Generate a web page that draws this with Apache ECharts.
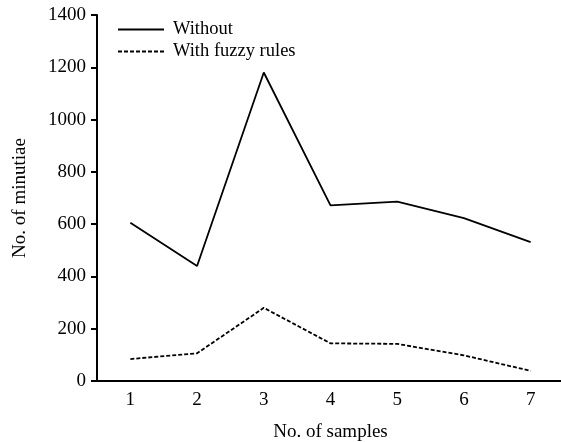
<!DOCTYPE html>
<html>
<head>
<meta charset="utf-8">
<script src="https://cdn.jsdelivr.net/npm/echarts@6/dist/echarts.min.js"></script>
<style>
  html, body { margin: 0; padding: 0; background: #fff; }
  #chart { width: 561px; height: 442px; }
</style>
</head>
<body>
<div id="chart"></div>
<script>
// values
const samples = ['1', '2', '3', '4', '5', '6', '7'];
const withoutRules = [605, 440, 1180, 672, 686, 623, 531];
const withFuzzyRules = [84, 106, 280, 144, 142, 98, 39];

const serif = 'Liberation Serif';

const chartDom = document.getElementById('chart');
const myChart = echarts.init(chartDom);
const option = {
  animation: false,
  textStyle: {fontFamily: serif, color: '#000'},
  grid: {left: 97, right: -3, top: 15, bottom: 61, containLabel: false, outerBoundsMode: 'none'},
  legend: {
    orient: 'vertical',
    left: 112,
    top: 15,
    itemWidth: 46,
    itemHeight: 14,
    itemGap: 3,
    itemStyle: {opacity: 0},
    textStyle: {fontFamily: serif, fontSize: 18.5, lineHeight: 18, color: '#000', padding: [0, 0, 0, 4]},
    data: ['Without', 'With fuzzy rules']
  },
  xAxis: {
    type: 'category',
    data: samples,
    boundaryGap: true,
    name: 'No. of samples',
    nameLocation: 'middle',
    nameGap: 42,
    nameTextStyle: {fontFamily: serif, fontSize: 19, color: '#000'},
    axisLine: {lineStyle: {color: '#000', width: 2}},
    axisTick: {length: 6, lineStyle: {color: '#000', width: 2}},
    axisLabel: {fontFamily: serif, fontSize: 19, color: '#000', margin: 10}
  },
  yAxis: {
    type: 'value',
    min: 0,
    max: 1400,
    interval: 200,
    name: 'No. of minutiae',
    nameLocation: 'middle',
    nameGap: 67,
    nameTextStyle: {fontFamily: serif, fontSize: 19, color: '#000'},
    splitLine: {show: false},
    axisLine: {show: true, lineStyle: {color: '#000', width: 2}},
    axisTick: {show: true, length: 6, lineStyle: {color: '#000', width: 2}},
    axisLabel: {
      fontFamily: serif, fontSize: 19, color: '#000', margin: 11,
      formatter: (value) => String(value)
    }
  },
  series: [
    {
      name: 'Without',
      type: 'line',
      data: withoutRules,
      symbol: 'none',
      lineStyle: {color: '#000', width: 1.8, type: 'solid'},
      itemStyle: {color: '#000'}
    },
    {
      name: 'With fuzzy rules',
      type: 'line',
      data: withFuzzyRules,
      symbol: 'none',
      lineStyle: {color: '#000', width: 1.8, type: [4, 2]},
      itemStyle: {color: '#000'}
    }
  ]
};
option && myChart.setOption(option);
</script>
</body>
</html>
